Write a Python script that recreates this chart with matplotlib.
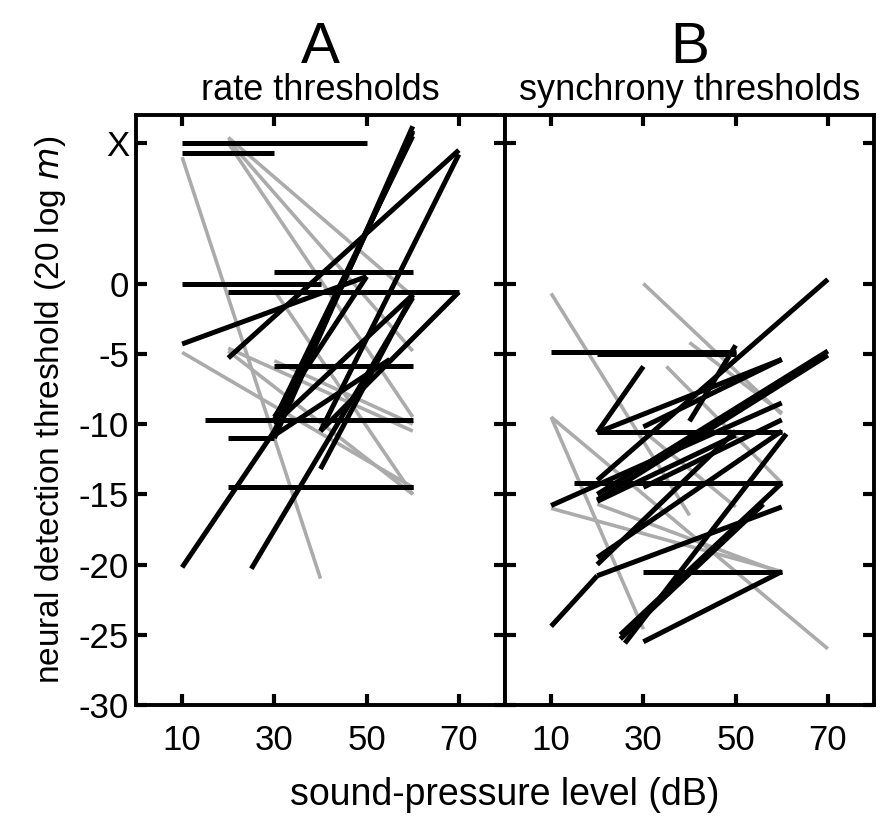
import matplotlib
matplotlib.use("Agg")
import matplotlib.pyplot as plt

plt.rcParams['font.family'] = ['Liberation Sans', 'DejaVu Sans']

# ---- data: each segment is (x_start, y_start, x_end, y_end) ----
# y = 10 is the "X" (no threshold) level
rate_black = [
    (10, 10.0, 50, 10.0), (10, 9.3, 30, 9.3),
    (30, 0.8, 60, 0.8), (10, 0.0, 40, 0.0), (20, -0.6, 70, -0.6),
    (30, -5.9, 60, -5.9), (15, -9.7, 60, -9.7), (20, -11.0, 30, -11.0),
    (20, -14.5, 60, -14.5), (30, -14.5, 60, -14.5),
    (10, -20.2, 30, -10.5), (30, -10.5, 60, 10.8), (30, -9.7, 60, 10.5),
    (30, -11.0, 60, 11.2), (31, -10.0, 60, 10.9),
    (10, -4.3, 50, 0.5), (20, -5.3, 70, 9.5), (40, -10.5, 70, -0.6),
    (40, -10.5, 70, 9.2), (25, -20.3, 60, -1.0), (30, -10.0, 60, -0.8),
    (30, -9.5, 50, 0.5), (30, -10.8, 55, -5.4), (40, -13.2, 60, -0.8),
]
rate_gray = [
    (10, 9.0, 40, -21.0), (20, 10.4, 60, -0.9), (20, 10.2, 60, -4.8),
    (20, 10.0, 60, -9.5), (10, -4.9, 60, -14.5), (20, -4.6, 60, -10.5),
    (30, -0.5, 60, -15.0), (30, -5.5, 60, -10.0), (20, -4.8, 60, -15.0),
]
sync_black = [
    (10, -4.9, 50, -4.9), (20, -5.0, 50, -5.0), (40, -9.8, 50, -4.4),
    (30, -5.9, 20, -10.6), (20, -10.6, 60, -10.6), (20, -10.6, 60, -5.4),
    (30, -10.2, 60, -5.4), (20, -14.0, 70, 0.3), (10, -15.8, 60, -8.5),
    (15, -14.2, 60, -14.2), (20, -15.0, 70, -4.8), (20, -15.4, 70, -5.1),
    (20, -19.5, 60, -10.5), (10, -24.4, 20, -20.8), (20, -20.8, 60, -15.9),
    (25, -25.3, 56, -15.7), (26, -25.6, 61, -10.7), (25, -25.0, 60, -14.2),
    (30, -25.5, 60, -20.5), (30, -20.5, 60, -20.5), (20, -20.0, 50, -10.5),
    (30, -14.5, 60, -9.7), (20, -15.5, 50, -10.8),
]
sync_gray = [
    (10, -0.7, 40, -16.5), (10, -9.5, 70, -26.0), (10, -9.5, 30, -24.6),
    (30, 0.0, 60, -9.3), (40, -4.2, 60, -9.2), (35, -5.9, 60, -14.2),
    (20, -15.7, 60, -20.6), (10, -16.0, 60, -20.5), (30, -10.5, 50, -15.9),
]

x_ticks = [10, 30, 50, 70]
y_ticks = [-30, -25, -20, -15, -10, -5, 0, 10]
y_ticklabels = ['-30', '-25', '-20', '-15', '-10', '-5', '0', 'X']

panels = [
    ('A', 'rate thresholds', rate_black, rate_gray),
    ('B', 'synchrony thresholds', sync_black, sync_gray),
]

fig = plt.figure(figsize=(8.88, 8.16), dpi=100)
lefts = [136 / 888, 505 / 888]
width = 369 / 888
bottom = 1 - 705 / 816
height = 590 / 816

for i, (letter, sub, blk, gry) in enumerate(panels):
    ax = fig.add_axes([lefts[i], bottom, width, height])
    for x1, y1, x2, y2 in gry:
        ax.plot([x1, x2], [y1, y2], color='#ababab', lw=2.6,
                solid_capstyle='butt', zorder=1)
    for x1, y1, x2, y2 in blk:
        ax.plot([x1, x2], [y1, y2], color='black', lw=3.6,
                solid_capstyle='butt', zorder=2)
    ax.set_xlim(0, 80)
    ax.set_ylim(-30, 12)
    ax.set_xticks(x_ticks)
    ax.set_xticklabels([str(v) for v in x_ticks], fontsize=25)
    ax.set_yticks(y_ticks)
    if i == 0:
        ax.set_yticklabels(y_ticklabels, fontsize=25)
        ax.set_ylabel('neural detection threshold (20 log $\\mathit{m}$)',
                      fontsize=24, labelpad=8)
    else:
        ax.set_yticklabels([])
    ax.tick_params(direction='in', length=8, width=3, top=True, right=True)
    ax.tick_params(axis='x', pad=14)
    ax.tick_params(axis='y', pad=5)
    for s in ax.spines.values():
        s.set_linewidth(2.8)
    ax.text(0.5, 1 + 40 / 590, letter, transform=ax.transAxes, ha='center',
            va='bottom', fontsize=42)
    ax.text(0.5, 1 + 7 / 590, sub, transform=ax.transAxes, ha='center',
            va='bottom', fontsize=26)

fig.text(505 / 888, 1 - 795 / 816, 'sound-pressure level (dB)', ha='center',
         va='center', fontsize=27)

fig.savefig('out.png', dpi=100)
